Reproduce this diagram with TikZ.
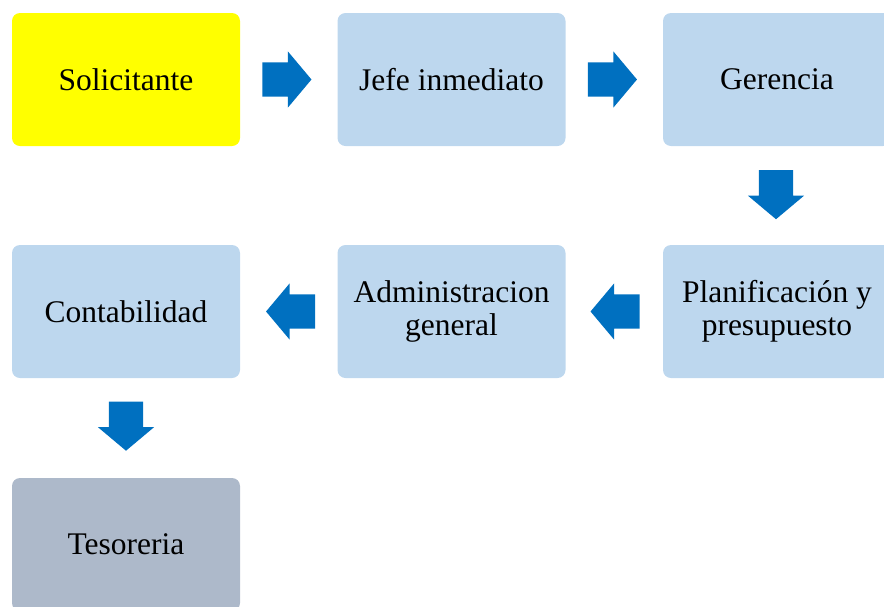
\documentclass[tikz,border=0pt]{standalone}
\usepackage{fontspec}
\setmainfont{Liberation Serif}
\usepackage{xcolor}
\usepackage{tikz}
\usetikzlibrary{positioning, shapes.arrows, calc}

\definecolor{amarillo}{HTML}{FFFF00}
\definecolor{celeste}{HTML}{BDD7EE}
\definecolor{grisazul}{HTML}{ADB9CA}
\definecolor{flecha}{HTML}{0070C0}

\tikzset{
    caja/.style={rectangle, rounded corners=8pt, fill=celeste, minimum width=228pt,
        minimum height=133pt, align=center, inner sep=0pt,
        font=\fontsize{31.5}{33}\selectfont},
    bloque/.style={single arrow, fill=flecha, draw=none, inner xsep=0pt, inner ysep=17pt,
        minimum height=49pt, single arrow head extend=11pt,
        single arrow tip angle=100, single arrow head indent=0pt}
}

\begin{document}
\begin{tikzpicture}[x=1pt, y=-1pt]
    \useasboundingbox (0,0) rectangle (884,606);
    \clip (0,0) rectangle (884,606);

    % Cajas
    \node[caja, fill=amarillo] (soli) at (126,79.5) {Solicitante};
    \node[caja] (jefe) at (451.5,79.5) {Jefe inmediato};
    \node[caja] (gere) at (777,79.5) {Gerencia};
    \node[caja] (plan) at (777,311.5) {Planificación y\\presupuesto};
    \node[caja] (admi) at (451.5,311.5) {Administracion\\general};
    \node[caja] (cont) at (126,311.5) {Contabilidad};
    \node[caja, fill=grisazul] (teso) at (126,544.5) {Tesoreria};

    % Flechas
    \node[bloque] (f1) at ($(soli.east)!0.5!(jefe.west)+(-9,0)$) {};
    \node[bloque] (f2) at ($(jefe.east)!0.5!(gere.west)+(-9,0)$) {};
    \node[bloque, rotate=-90] (f3) at ($(gere.south)!0.5!(plan.north)+(-1,-8)$) {};
    \node[bloque, rotate=180] (f4) at ($(plan.west)!0.5!(admi.east)+(8,0)$) {};
    \node[bloque, rotate=180] (f5) at ($(admi.west)!0.5!(cont.east)+(9,0)$) {};
    \node[bloque, rotate=-90] (f6) at ($(cont.south)!0.5!(teso.north)+(0,-9)$) {};
\end{tikzpicture}
\end{document}
